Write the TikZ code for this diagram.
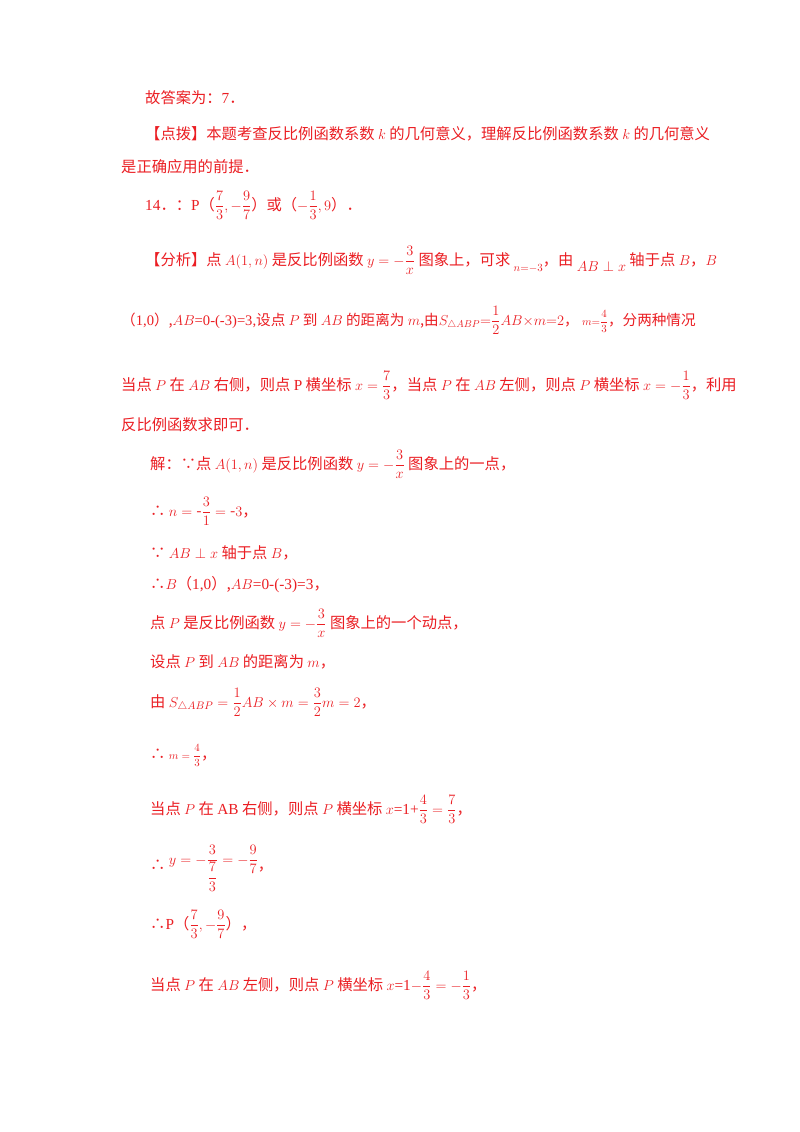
\documentclass[tikz,border=0pt]{standalone}
\usepackage{amsmath}
\usepackage{fontspec}
\setmainfont{Noto Sans CJK SC}
\newfontfamily\lat{Liberation Serif}
\definecolor{tred}{RGB}{235,30,35}
\begin{document}
\begin{tikzpicture}[x=1pt,y=-1pt,
  ln/.style={anchor=base west,inner sep=0pt,text=tred,font=\fontsize{15.3}{18}\selectfont}]
\useasboundingbox[fill=white] (0,0) rectangle (800,1132);
\node[ln] (l1) at (145,103) {故答案为：{\lat 7}．};
\node[ln] (l2) at (145,139) {【点拨】本题考查反比例函数系数 $k$ 的几何意义，理解反比例函数系数 $k$ 的几何意义};
\node[ln] (l3) at (121,172) {是正确应用的前提．};
\node[ln] (l4) at (145,210) {{\lat 14}．：{\lat P}（$\dfrac{7}{3},-\dfrac{9}{7}$）或（$-\dfrac{1}{3},9$）．};
\node[ln] (l5) at (145,265) {【分析】点 $A(1,n)$ 是反比例函数 $y=-\dfrac{3}{x}$ 图象上，可求 \raisebox{-6pt}{$\scriptstyle n=-3$}，由 \raisebox{-6pt}{$AB\perp x$} 轴于点 $B$，$B$};
\node[ln] (l6) at (121,325) {\fontsize{14.6}{18}\selectfont（{\lat 1,0}）,$AB${\lat =0-(-3)=3,}设点 $P$ 到 $AB$ 的距离为 $m$,由$S_{\triangle ABP}{=}\dfrac12 AB{\times}m{=}2$， {\fontsize{11}{12}\selectfont$m{=}\dfrac43$}，分两种情况};
\node[ln] (l7) at (121,390) {当点 $P$ 在 $AB$ 右侧，则点 {\lat P} 横坐标 $x=\dfrac73$，当点 $P$ 在 $AB$ 左侧，则点 $P$ 横坐标 $x=-\dfrac13$，利用};
\node[ln] (l8) at (121,430) {反比例函数求即可．};
\node[ln] (l9) at (150,469) {解：∵点 $A(1,n)$ 是反比例函数 $y=-\dfrac{3}{x}$ 图象上的一点，};
\node[ln] (l10) at (150,516) {∴ $n=\text{-}\dfrac31=\text{-}3$，};
\node[ln] (l11) at (150,558) {∵ $AB\perp x$ 轴于点 $B$，};
\node[ln] (l12) at (150,589) {∴$B$（{\lat 1,0}）,$AB${\lat =0-(-3)=3}，};
\node[ln] (l13) at (150,628) {点 $P$ 是反比例函数 $y=-\dfrac{3}{x}$ 图象上的一个动点，};
\node[ln] (l14) at (150,667) {设点 $P$ 到 $AB$ 的距离为 $m$，};
\node[ln] (l15) at (150,707) {由 $S_{\triangle ABP}=\dfrac12 AB\times m=\dfrac32 m=2$，};
\node[ln] (l16) at (150,759) {∴ {\fontsize{11}{12}\selectfont$m=\dfrac43$}，};
\node[ln] (l17) at (150,814) {当点 $P$ 在 {\lat AB} 右侧，则点 $P$ 横坐标 $x${\lat =1+}$\dfrac43=\dfrac73$，};
\node[ln] (l18) at (150,870) {∴ \raisebox{6pt}{$y=-\dfrac{3}{\dfrac73}=-\dfrac97$}，};
\node[ln] (l19) at (150,929) {∴{\lat P}（$\dfrac73,-\dfrac97$），};
\node[ln] (l20) at (150,990) {当点 $P$ 在 $AB$ 左侧，则点 $P$ 横坐标 $x${\lat =1}$-\dfrac43=-\dfrac13$，};
\end{tikzpicture}
\end{document}
